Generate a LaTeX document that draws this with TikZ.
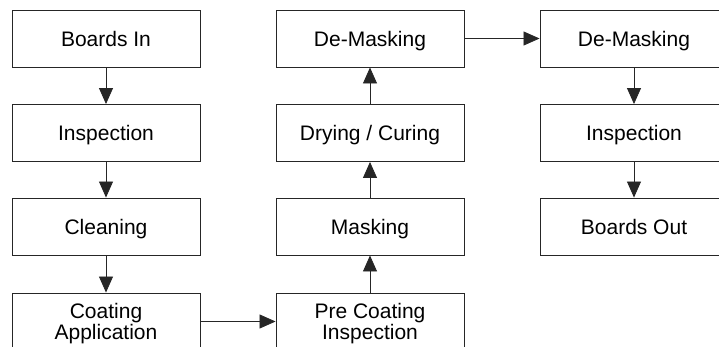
\documentclass[tikz,border=0pt]{standalone}
\usepackage{fontspec}
\setmainfont{Liberation Sans}
\usetikzlibrary{arrows.meta}

\begin{document}
\begin{tikzpicture}[
    x=1pt, y=-1pt,
    box_style/.style={draw=black!85, line width=0.9pt, minimum width=188pt, minimum height=57pt, inner sep=0pt, align=center, text depth=0pt, font=\fontsize{21}{20.5}\selectfont},
    flow_style/.style={draw=black!85, line width=0.8pt, -{Triangle[length=16pt, width=14pt]}}
]
    \useasboundingbox (0,0) rectangle (719,347);
    \clip (0,0) rectangle (719,347);

    % Coordinates
    \coordinate (in) at (106,38.5);
    \coordinate (insp1) at (106,133);
    \coordinate (clean) at (106,226.5);
    \coordinate (coat) at (106,321.5);
    \coordinate (precoat) at (370,321.5);
    \coordinate (mask) at (370,226.5);
    \coordinate (dry) at (370,133);
    \coordinate (demask1) at (370,38.5);
    \coordinate (demask2) at (634,38.5);
    \coordinate (insp2) at (634,133);
    \coordinate (out) at (634,226.5);

    % Boxes
    \node[box_style] (n_in) at (in) {Boards In};
    \node[box_style] (n_insp1) at (insp1) {Inspection};
    \node[box_style] (n_clean) at (clean) {Cleaning};
    \node[box_style] (n_coat) at (coat) {Coating\\Application};
    \node[box_style] (n_precoat) at (precoat) {Pre Coating\\Inspection};
    \node[box_style] (n_mask) at (mask) {Masking};
    \node[box_style] (n_dry) at (dry) {Drying / Curing};
    \node[box_style] (n_demask1) at (demask1) {De-Masking};
    \node[box_style] (n_demask2) at (demask2) {De-Masking};
    \node[box_style] (n_insp2) at (insp2) {Inspection};
    \node[box_style] (n_out) at (out) {Boards Out};

    % Flow arrows
    \draw[flow_style] (n_in) -- (n_insp1);
    \draw[flow_style] (n_insp1) -- (n_clean);
    \draw[flow_style] (n_clean) -- (n_coat);
    \draw[flow_style] (n_coat) -- (n_precoat);
    \draw[flow_style] (n_precoat) -- (n_mask);
    \draw[flow_style] (n_mask) -- (n_dry);
    \draw[flow_style] (n_dry) -- (n_demask1);
    \draw[flow_style] (n_demask1) -- (n_demask2);
    \draw[flow_style] (n_demask2) -- (n_insp2);
    \draw[flow_style] (n_insp2) -- (n_out);
\end{tikzpicture}
\end{document}
